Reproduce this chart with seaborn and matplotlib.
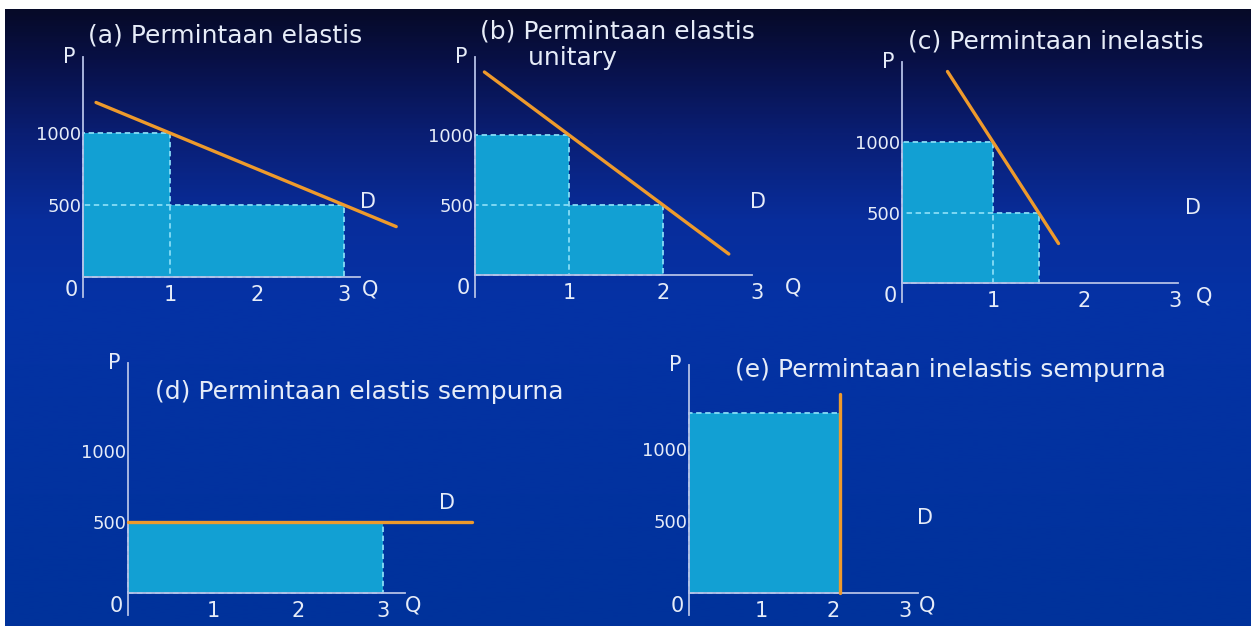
import numpy as np
import seaborn as sns
import matplotlib.pyplot as plt
from matplotlib.colors import LinearSegmentedColormap

# ---- data (Q = quantity, P = price) ----
titles = ["(a) Permintaan elastis", "(b) Permintaan elastis\n      unitary",
          "(c) Permintaan inelastis", "(d) Permintaan elastis sempurna",
          "(e) Permintaan inelastis sempurna"]

# revenue rectangles: width = Q, height = P
rect_q_a = [1, 3]
rect_p_a = [1000, 500]
rect_q_b = [1, 2]
rect_p_b = [1000, 500]
rect_q_c = [1, 1.5]
rect_p_c = [1000, 500]
rect_q_d = [3]
rect_p_d = [500]
rect_q_e = [2.1]
rect_p_e = [1250]

# demand curve end points
curve_q_a = [0.15, 3.6]
curve_p_a = [1212, 350]
curve_q_b = [0.1, 2.7]
curve_p_b = [1450, 150]
curve_q_c = [0.5, 1.72]
curve_p_c = [1500, 280]
curve_q_d = [0, 4.05]
curve_p_d = [500, 500]
curve_q_e = [2.1, 2.1]
curve_p_e = [0, 1380]

x_ticks = [1, 2, 3]
x_labels = ["1", "2", "3"]
y_ticks = [500, 1000]
y_labels = ["500", "1000"]

# label positions (Q, P) for the "D" mark and Q-axis name
d_pos = [(3.28, 521), (3.01, 521), (3.2, 532), (3.75, 634), (3.28, 521)]
q_pos = [3.3, 3.38, 3.32, 3.35, 3.3]

# ---- layout (pixels on the 1251x626 slide) ----
W, H = 1251, 626
layout = [
    dict(x0=83, y0=277, ux=87, uy=72, box=(35, 45, 425, 312), ytop=1528, ybot=-140, xend=3.18),
    dict(x0=475, y0=275, ux=94, uy=70, box=(425, 45, 845, 312), ytop=1557, ybot=-157, xend=2.95),
    dict(x0=902, y0=283, ux=91, uy=70.5, box=(850, 45, 1251, 318), ytop=1567, ybot=-135, xend=3.03),
    dict(x0=128, y0=593, ux=85, uy=71, box=(75, 340, 600, 626), ytop=1620, ybot=-155, xend=3.26),
    dict(x0=689, y0=593, ux=72, uy=72, box=(630, 340, 1000, 626), ytop=1583, ybot=-153, xend=3.18),
]
title_xy = [(88, 35), (480, 31), (908, 41), (155, 392), (735, 370)]

rects = [(rect_q_a, rect_p_a), (rect_q_b, rect_p_b), (rect_q_c, rect_p_c),
         (rect_q_d, rect_p_d), (rect_q_e, rect_p_e)]
curves = [(curve_q_a, curve_p_a), (curve_q_b, curve_p_b), (curve_q_c, curve_p_c),
          (curve_q_d, curve_p_d), (curve_q_e, curve_p_e)]

sns.set_theme(style="white")
plt.rcParams["font.family"] = ["DejaVu Sans"]

TXT = "#e6ecf8"
AXC = "#b4c0e6"
FILL = "#12a0d3"
DASH = "#86dcf6"
ORANGE = "#ee9a2c"

fig = plt.figure(figsize=(W / 100, H / 100), dpi=100, facecolor="white")

# slide background: dark navy at the top fading into royal blue
bg = fig.add_axes([5 / W, 0, 1 - 5 / W, 1 - 9 / H], zorder=-10)
stops = [(0.0, (6, 10, 40)), (0.08, (8, 16, 70)), (0.2, (10, 30, 115)),
         (0.34, (8, 45, 155)), (0.47, (5, 50, 165)), (1.0, (0, 50, 155))]
cmap = LinearSegmentedColormap.from_list(
    "slide", [(p, tuple(c / 255 for c in col)) for p, col in stops])
bg.imshow(np.linspace(0, 1, 400).reshape(-1, 1), cmap=cmap, aspect="auto",
          extent=(0, 1, 0, 1))
bg.axis("off")


def make_axes(x0, y0, ux, uy, box):
    xl, yt, xr, yb = box
    ax = fig.add_axes([xl / W, 1 - yb / H, (xr - xl) / W, (yb - yt) / H])
    ax.set_xlim((xl - x0) / ux, (xr - x0) / ux)
    ax.set_ylim((y0 - yb) * 500 / uy, (y0 - yt) * 500 / uy)
    ax.patch.set_alpha(0)
    return ax


for i, lay in enumerate(layout):
    ax = make_axes(lay["x0"], lay["y0"], lay["ux"], lay["uy"], lay["box"])
    rq, rp = rects[i]
    ax.bar([0] * len(rq), rp, width=rq, align="edge", color=FILL,
           linewidth=0, zorder=1)
    ax.bar([0] * len(rq), rp, width=rq, align="edge", fill=False,
           edgecolor=DASH, linestyle=(0, (3, 2)), linewidth=1.3, zorder=2)

    cq, cp = curves[i]
    sns.lineplot(x=cq, y=cp, ax=ax, color=ORANGE, linewidth=2.4,
                 estimator=None, sort=False, zorder=4)

    for side in ["top", "right"]:
        ax.spines[side].set_visible(False)
    for side in ["left", "bottom"]:
        ax.spines[side].set_position(("data", 0))
        ax.spines[side].set_color(AXC)
        ax.spines[side].set_linewidth(1.3)
        ax.spines[side].set_zorder(3)
    ax.spines["left"].set_bounds(lay["ybot"], lay["ytop"])
    ax.spines["bottom"].set_bounds(0, lay["xend"])

    ax.set_xticks(x_ticks, x_labels)
    ax.set_yticks(y_ticks, y_labels)
    ax.tick_params(axis="x", direction="in", length=4, width=1.2, color=AXC,
                   pad=6, labelsize=15, labelcolor=TXT)
    ax.tick_params(axis="y", length=0, pad=1, labelsize=13, labelcolor=TXT)

    ax.annotate("0", xy=(0, 0), xytext=(-12, -13), textcoords="offset pixels",
                ha="center", va="center", fontsize=15, color=TXT)
    ax.annotate("P", xy=(0, lay["ytop"]), xytext=(-14, 0),
                textcoords="offset pixels", ha="center", va="center",
                fontsize=15, color=TXT)
    ax.annotate("Q", xy=(q_pos[i], 0), xytext=(0, -13),
                textcoords="offset pixels", ha="center", va="center",
                fontsize=15, color=TXT)
    ax.text(d_pos[i][0], d_pos[i][1], "D", ha="center", va="center",
            fontsize=15, color=TXT)

    # titles: anchor the first line's centre, extra lines hang below
    tx, ty = title_xy[i]
    fig.text(tx / W, 1 - (ty - 12) / H, titles[i], ha="left", va="top",
             fontsize=18, color=TXT, linespacing=1.15)

fig.savefig("out.png", dpi=100, facecolor="white")
